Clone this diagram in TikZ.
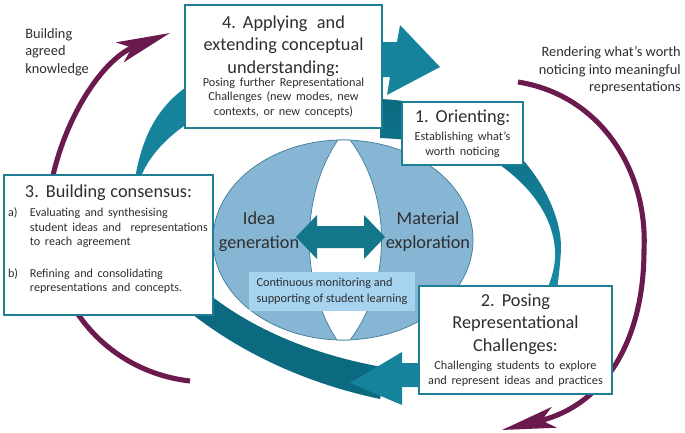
\documentclass[tikz,border=0pt]{standalone}
\usepackage{fontspec}
\setmainfont{Carlito}
\usetikzlibrary{arrows.meta}
\definecolor{boxTeal}{HTML}{1F7F96}
\definecolor{bandTeal}{HTML}{15839B}
\definecolor{bandDark}{HTML}{0B6A80}
\definecolor{bandLight}{HTML}{1A8CA6}
\definecolor{ovalBlue}{HTML}{87B5D4}
\definecolor{ovalEdge}{HTML}{3F7C98}
\definecolor{noteBlue}{HTML}{A6D4F0}
\definecolor{arcPurple}{HTML}{6A1A4C}
\definecolor{txtGray}{HTML}{2E2E2E}
\newcommand{\stagetitle}{\fontsize{13}{16.2}\selectfont}
\newcommand{\stagetext}{\fontsize{8.7}{10.4}\selectfont}
\newcommand{\listtext}{\fontsize{8.6}{10.4}\selectfont}

\begin{document}
\begin{tikzpicture}[x=0.025cm, y=-0.025cm,
  stagebox/.style={draw=boxTeal, line width=1.4pt, fill=white, text=txtGray,
                   align=center, inner sep=0pt},
  notebox/.style={fill=noteBlue, text=txtGray, align=left, inner sep=0pt,
                  font=\fontsize{8.7}{11.4}\selectfont},
  loopline/.style={draw=arcPurple, line width=3.6pt,
                   -{Stealth[length=38pt, width=15pt, inset=9pt]}},
  sidenote/.style={text=txtGray, inner sep=0pt,
                   font=\fontsize{10.2}{12.6}\selectfont},
  halflabel/.style={text=txtGray, align=center, inner sep=0pt,
                    font=\fontsize{13}{17}\selectfont},
]
  \useasboundingbox (0,0) rectangle (685,433);

  % circular arrows
  \fill[bandTeal] (134,185) .. controls (142,130) and (162,100) .. (200,78)
    .. controls (260,50) and (330,42) .. (397,42) -- (400,25) -- (440,67)
    -- (387,95) -- (390,77) .. controls (310,80) and (230,100) .. (190,122)
    .. controls (165,138) and (145,160) .. (138,185) -- cycle;
  \shade[top color=bandDark, bottom color=bandLight]
    (380,99) .. controls (450,102) and (500,130) .. (523,160)
    .. controls (545,185) and (562,220) .. (561,250)
    .. controls (560,268) and (558,280) .. (557,292) -- (546,292)
    .. controls (552,278) and (556,264) .. (555,250)
    .. controls (553,220) and (535,190) .. (500,165)
    .. controls (460,145) and (420,140) .. (380,138) -- cycle;
  \fill[bandDark] (190,278) .. controls (240,325) and (310,355) .. (388,368)
    -- (380,399) .. controls (300,382) and (230,348) .. (175,300) -- cycle;
  \fill[bandTeal] (430,363) -- (402,363) -- (402,352) -- (350,383)
    -- (402,405) -- (402,387) -- (430,387) -- cycle;

  % centre
  \filldraw[fill=ovalBlue, draw=ovalEdge, line width=0.5pt]
    (343,240) ellipse [x radius=3.25cm, y radius=2.5cm];
  \filldraw[fill=white, draw=ovalEdge, line width=0.5pt]
    (338,140) .. controls (300,195) and (300,285) .. (337,340) -- (350,340)
    .. controls (392,285) and (392,195) .. (350,140) -- cycle;
  \fill[bandTeal!90!black] (296,237) -- (317,215) -- (317,226) -- (364,226)
    -- (364,215) -- (385,237) -- (364,259) -- (364,248) -- (317,248)
    -- (317,259) -- cycle;
  \node[halflabel] (idea) at (259,232) {Idea\\generation};
  \node[halflabel] (material) at (428,232) {Material\\exploration};
  \node[notebox, minimum width=4.15cm, minimum height=0.975cm]
    (monitor) at (332,291.5) {Continuous monitoring and\\supporting of student learning};

  % outer loops
  \coordinate (agreedStart) at (190,381);
  \coordinate (agreedEnd) at (170,33);
  \coordinate (renderStart) at (518,82);
  \coordinate (renderEnd) at (502,430);
  \draw[loopline] (agreedStart) .. controls (110,372) and (45,305) .. (48,205)
    .. controls (56,130) and (100,60) .. (agreedEnd);
  \draw[loopline] (renderStart) .. controls (600,95) and (648,170) .. (644,250)
    .. controls (644,340) and (605,405) .. (renderEnd);
  \node[sidenote, anchor=north west, align=left] (agreed) at (25,28)
    {Building\\agreed\\knowledge};
  \node[sidenote, anchor=north east, align=right] (render) at (681,46)
    {Rendering what’s worth\\noticing into meaningful\\representations};

  % stages
  \node[stagebox, text width=4.8cm, minimum width=4.925cm, minimum height=3.075cm]
    (applying) at (283.5,66.5) {%
    {\stagetitle 4. Applying~ and\\extending conceptual\\understanding:\par}
    \vspace{-1.5pt}
    {\stagetext Posing further Representational\\Challenges (new modes, new\\contexts, or new concepts)\par}};
  \node[stagebox, text width=2.95cm, minimum width=3.025cm, minimum height=1.575cm]
    (orienting) at (462.5,133.5) {%
    {\stagetitle 1. Orienting:\par}
    \vspace{2.5pt}
    {\stagetext Establishing what’s\\worth noticing\par}};
  \node[stagebox, text width=4.75cm, minimum width=4.825cm, minimum height=2.7cm]
    (posing) at (515.5,340) {%
    {\stagetitle 2. Posing\\Representational\\Challenges:\par}
    \vspace{2.5pt}
    {\stagetext Challenging students to explore\\and represent ideas and practices\par}};
  \node[stagebox, align=left, text width=5.17cm, minimum width=5.225cm, minimum height=3.5cm]
    (consensus) at (108.5,245) {%
    {\stagetitle\centering 3. Building consensus:\par}
    \vspace{3pt}
    {\listtext\leftskip=2.1pt\noindent\makebox[15.6pt][l]{a)}Evaluating and synthesising\\
    \hspace*{15.6pt}student ideas and~ representations\\
    \hspace*{15.6pt}to reach agreement\\[12pt]
    \makebox[15.6pt][l]{b)}Refining and consolidating\\
    \hspace*{15.6pt}representations and concepts.\par}
    \vspace{8pt}};
\end{tikzpicture}
\end{document}
